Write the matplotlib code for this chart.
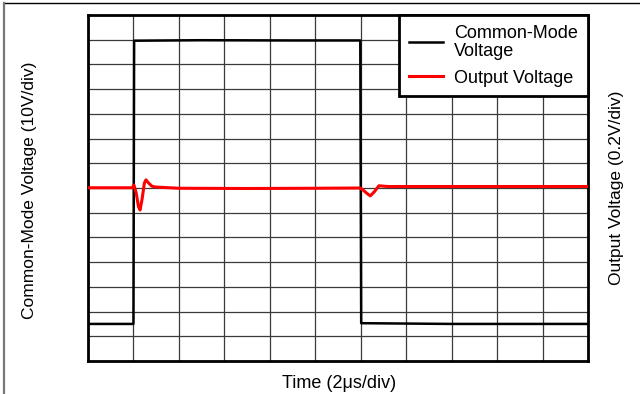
import numpy as np
import matplotlib
matplotlib.use("Agg")
import matplotlib.pyplot as plt
from matplotlib.lines import Line2D

plt.rcParams['font.family'] = ['Liberation Sans', 'DejaVu Sans']

# time in microseconds (2 us/div, 11 divisions)
cm_t = [0.0, 2.0, 2.03, 5.0, 9.0, 11.98, 12.02, 16.0, 22.0]
# common-mode trace, in screen divisions (10 V/div)
cm_v = [1.50, 1.50, 12.96, 12.98, 12.97, 12.97, 1.53, 1.50, 1.50]

# output trace, in screen divisions (0.2 V/div)
out_t = [0.0, 1.0, 1.95, 2.02, 2.12, 2.22, 2.29, 2.38, 2.48, 2.55, 2.65, 2.8, 2.95,
         4.0, 7.0, 10.0, 11.98, 12.1, 12.25, 12.42, 12.6, 12.8, 13.2, 16.0, 22.0]
out_v = [7.01, 7.01, 7.01, 7.12, 6.80, 6.25, 6.11, 6.55, 7.20, 7.33, 7.22, 7.08, 7.04,
         6.99, 6.98, 6.99, 7.00, 6.92, 6.80, 6.68, 6.85, 7.09, 7.06, 7.06, 7.06]

fig = plt.figure(figsize=(6.4, 3.94), dpi=100)
ax = fig.add_axes([88 / 640, 1 - 361 / 394, 500 / 640, 346 / 394])

ax.set_xlim(0, 22)
ax.set_ylim(0, 14)
ax.set_xticks(np.arange(0, 22.1, 2))
ax.set_yticks(np.arange(0, 14.1, 1))
ax.tick_params(length=0, labelleft=False, labelbottom=False)
ax.grid(True, color='#3a3a3a', lw=0.9)
ax.set_axisbelow(True)
for s in ax.spines.values():
    s.set_linewidth(2.0)

ax.plot(cm_t, cm_v, color='black', lw=1.8, label='Common-Mode\nVoltage', zorder=3)
ax.plot(out_t, out_v, color='#ff0000', lw=2.2, label='Output Voltage', zorder=4)

leg = ax.legend(loc='upper right', borderaxespad=0, fancybox=False, framealpha=1,
                edgecolor='black', fontsize=13, handlelength=1.9,
                handletextpad=0.6, labelspacing=0.55, borderpad=0.55)
leg.get_frame().set_linewidth(2.0)
for t in leg.get_texts():
    t.set_linespacing(1.05)

fig.text(339 / 640, 1 - 383 / 394, 'Time (2\u03bcs/div)', ha='center', va='center',
         fontsize=13)
fig.text(30 / 640, 1 - 190 / 394, 'Common-Mode Voltage (10V/div)', ha='center',
         va='center', rotation=90, fontsize=12.5)
fig.text(617 / 640, 1 - 188 / 394, 'Output Voltage (0.2V/div)', ha='center',
         va='center', rotation=90, fontsize=12.5)

# page border seen at the top and left edges
fig.add_artist(Line2D([4 / 640, 1], [1 - 3 / 394, 1 - 3 / 394], color='black', lw=1.0,
                      transform=fig.transFigure))
fig.add_artist(Line2D([4 / 640, 4 / 640], [0, 1 - 3 / 394], color='#777777', lw=1.6,
                      transform=fig.transFigure))

fig.savefig('out.png', dpi=100)
